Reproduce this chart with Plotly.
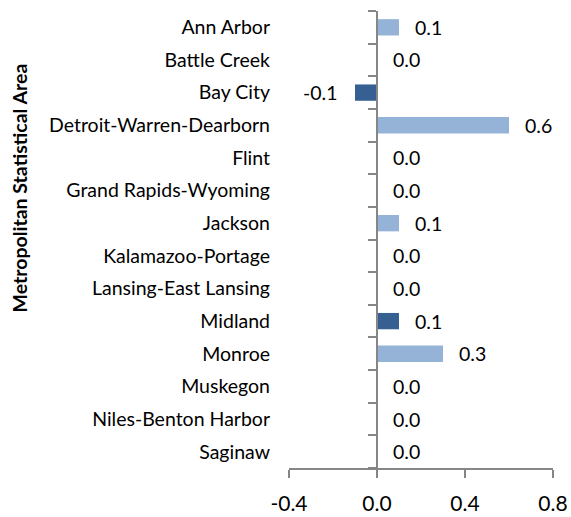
import plotly.graph_objects as go

categories = ["Ann Arbor", "Battle Creek", "Bay City", "Detroit-Warren-Dearborn", "Flint",
              "Grand Rapids-Wyoming", "Jackson", "Kalamazoo-Portage", "Lansing-East Lansing",
              "Midland", "Monroe", "Muskegon", "Niles-Benton Harbor", "Saginaw"]
values = [0.1, 0.0, -0.1, 0.6, 0.0, 0.0, 0.1, 0.0, 0.0, 0.1, 0.3, 0.0, 0.0, 0.0]
highlight = [False, False, True, False, False, False, False, False, False, True, False, False, False, False]
x_ticks = [-0.4, 0.0, 0.4, 0.8]
x_tick_labels = ["-0.4", "0.0", "0.4", "0.8"]

LIGHT = "#95B3D7"
DARK = "#376092"
GRAY = "#868686"
FONT = "Lato"

colors = [DARK if h else LIGHT for h in highlight]
n = len(categories)

fig = go.Figure()
fig.add_trace(go.Bar(
    x=values, y=categories, orientation="h", marker=dict(color=colors, line=dict(width=0)),
    width=0.5, hoverinfo="x+y", showlegend=False,
))
# helper trace for the axis drawn at x = 0
fig.add_trace(go.Scatter(x=[], y=[], yaxis="y2", showlegend=False, hoverinfo="skip"))

annotations = []
for c, v in zip(categories, values):
    annotations.append(dict(
        x=v, y=c, xref="x", yref="y", text=f"{v:.1f}", showarrow=False,
        xanchor="left" if v >= 0 else "right", xshift=14 if v >= 0 else -16,
        font=dict(family=FONT, size=19.5, color="#000000"),
    ))

W, H = 571, 517
L, R, T, B = 289, 18, 11, 49
pw = W - L - R
ph = H - T - B
annotations.append(dict(
    x=(19 - L) / pw, y=(H - B - 188.5) / ph, xref="paper", yref="paper",
    xanchor="center", yanchor="middle", borderpad=0,
    text="<b>Metropolitan Statistical Area</b>", textangle=-90, showarrow=False,
    font=dict(family=FONT, size=19.5, color="#000000"),
))

fig.update_layout(
    width=W, height=H,
    margin=dict(l=L, r=R, t=T, b=B, pad=0, autoexpand=False),
    paper_bgcolor="white", plot_bgcolor="white",
    font=dict(family=FONT, color="#000000"),
    xaxis=dict(
        range=[x_ticks[0], x_ticks[-1]], tickvals=x_ticks, ticktext=x_tick_labels,
        ticks="outside", ticklen=8, tickwidth=2, tickcolor=GRAY,
        showline=True, linecolor=GRAY, linewidth=2, showgrid=False, zeroline=False,
        tickfont=dict(family=FONT, size=21, color="#000000"), ticklabelstandoff=8,
        ticklabeloverflow="allow", fixedrange=True, automargin=False,
    ),
    yaxis=dict(
        categoryorder="array", categoryarray=categories, range=[n - 0.5, -0.5],
        ticks="", showline=False, showgrid=False, zeroline=False,
        tickfont=dict(family=FONT, size=19.5, color="#000000"), ticklabelstandoff=18,
        fixedrange=True, automargin=False,
    ),
    yaxis2=dict(
        overlaying="y", anchor="free",
        position=(0 - x_ticks[0]) / (x_ticks[-1] - x_ticks[0]), side="left",
        range=[n - 0.5, -0.5], tickvals=[i - 0.5 for i in range(n + 1)],
        ticks="outside", ticklen=8, tickwidth=2, tickcolor=GRAY,
        showticklabels=False, showline=True, linecolor=GRAY, linewidth=2,
        showgrid=False, zeroline=False, fixedrange=True, automargin=False,
    ),
    annotations=annotations,
)

fig.write_html(
    "out.html",
    config={"displayModeBar": False},
    post_script="document.body.style.margin='0';document.body.style.overflow='hidden';",
)
